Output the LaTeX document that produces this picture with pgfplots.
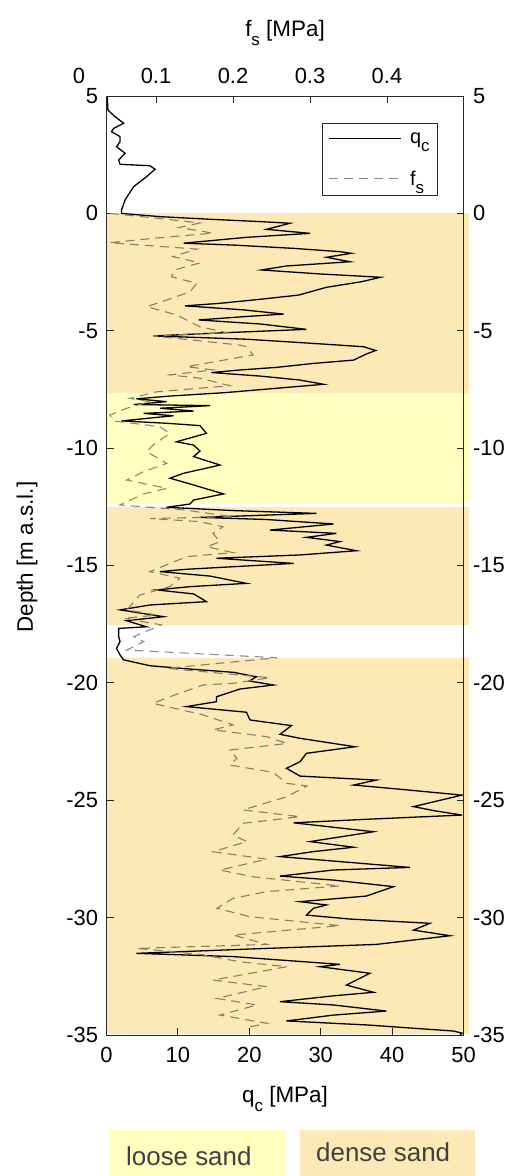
\documentclass[border=0pt]{standalone}
\usepackage{fontspec}
\setmainfont{Liberation Sans}
\usepackage{pgfplots}
\pgfplotsset{compat=1.18}
\usepackage{pgfplotstable}

\definecolor{densesand}{RGB}{252,233,181}
\definecolor{loosesand}{RGB}{255,255,192}
\definecolor{fsgray}{RGB}{140,140,140}
\definecolor{labelgray}{RGB}{64,64,64}
\definecolor{axisgray}{RGB}{40,40,40}

\newcommand\tickfont{\fontsize{22}{26}\selectfont}
\newcommand\labfont{\fontsize{22.5}{27}\selectfont}
\newcommand\sub[1]{\raisebox{-0.42em}{\fontsize{17}{17}\selectfont #1}}

% cone resistance q_c [MPa] against depth [m a.s.l.]
\pgfplotstableread{
qc z
0.1 5.00
0.2 4.40
1.2 4.12
2.4 3.84
1.0 3.62
0.7 3.48
1.9 3.27
1.9 3.05
1.4 2.84
2.6 2.56
1.7 2.27
1.9 2.09
6.1 2.03
6.8 1.88
5.6 1.56
3.8 1.14
2.6 0.57
2.1 0.14
2.1 0.00
7.5 -0.14
14.5 -0.25
21.5 -0.35
25.7 -0.42
22.4 -0.68
28.5 -0.85
19.6 -1.02
10.8 -1.27
17.8 -1.35
26.2 -1.49
32.7 -1.63
34.3 -1.70
30.8 -1.87
34.1 -2.06
25.2 -2.24
21.7 -2.41
29.9 -2.58
38.4 -2.72
35.7 -2.91
30.8 -3.15
26.9 -3.48
21.5 -3.66
15.9 -3.83
11.0 -3.94
19.2 -4.11
24.8 -4.29
19.2 -4.40
12.9 -4.54
21.5 -4.71
28.0 -4.94
16.8 -5.08
6.6 -5.22
19.6 -5.36
28.5 -5.53
36.0 -5.68
37.7 -5.84
36.4 -5.99
34.6 -6.25
29.0 -6.39
23.8 -6.56
18.7 -6.67
14.7 -6.78
21.5 -6.93
27.1 -7.10
30.4 -7.28
23.8 -7.45
16.4 -7.64
8.9 -7.78
4.2 -7.90
8.4 -8.02
3.8 -8.14
14.5 -8.19
7.5 -8.30
12.2 -8.42
5.2 -8.52
9.4 -8.62
2.1 -8.84
8.4 -8.94
13.1 -9.04
14.0 -9.37
9.8 -9.73
12.2 -9.87
13.1 -10.12
12.2 -10.36
15.9 -10.72
10.8 -11.07
8.9 -11.28
12.2 -11.57
15.4 -11.86
16.4 -11.95
12.2 -12.21
11.7 -12.38
8.4 -12.52
17.8 -12.66
29.4 -12.78
13.1 -12.95
22.4 -13.04
31.8 -13.23
22.9 -13.49
32.2 -13.63
28.0 -13.80
32.7 -13.98
30.8 -14.13
35.0 -14.37
27.1 -14.55
15.4 -14.69
26.2 -14.91
11.2 -15.16
7.5 -15.26
14.5 -15.45
19.6 -15.76
11.7 -15.90
7.0 -16.04
12.2 -16.21
14.0 -16.54
6.1 -16.68
1.9 -16.89
8.0 -17.18
2.8 -17.35
5.6 -17.61
1.7 -17.68
1.7 -18.03
1.9 -18.24
1.4 -18.53
1.9 -18.81
2.4 -19.02
6.1 -19.27
11.7 -19.41
17.8 -19.55
21.0 -19.74
20.0 -19.92
23.4 -20.09
18.7 -20.26
15.4 -20.59
15.4 -20.80
11.2 -21.01
19.6 -21.25
20.1 -21.58
25.9 -21.82
24.3 -22.19
27.1 -22.36
34.8 -22.72
28.0 -23.00
27.1 -23.36
25.2 -23.64
27.1 -23.97
37.8 -24.14
34.6 -24.35
41.1 -24.53
49.8 -24.78
43.0 -25.27
45.8 -25.44
49.8 -25.63
36.4 -25.81
26.2 -25.96
37.4 -26.34
28.5 -26.76
34.6 -27.00
28.9 -27.19
24.3 -27.40
42.5 -27.86
31.8 -27.97
24.3 -28.23
31.8 -28.40
40.2 -28.68
36.4 -29.08
27.1 -29.32
30.8 -29.46
29.0 -29.60
28.0 -29.89
34.1 -30.06
45.3 -30.24
43.0 -30.53
48.1 -30.77
37.8 -31.14
22.4 -31.31
4.2 -31.52
17.8 -31.66
32.7 -31.99
29.9 -32.09
36.9 -32.37
33.6 -32.87
37.4 -33.18
31.8 -33.33
24.3 -33.58
31.8 -33.72
39.2 -33.98
31.8 -34.15
25.2 -34.40
36.4 -34.57
48.6 -34.83
49.8 -34.92
49.5 -35.00
}\qcdata

% sleeve friction f_s [MPa] against depth [m a.s.l.]
\pgfplotstableread{
fs z
0.040 0.00
0.100 -0.20
0.157 -0.41
0.130 -0.60
0.174 -0.84
0.100 -1.05
0.040 -1.25
0.153 -1.52
0.122 -1.84
0.157 -2.11
0.125 -2.40
0.120 -2.70
0.153 -2.98
0.144 -3.34
0.114 -3.69
0.088 -3.97
0.127 -4.33
0.157 -4.83
0.192 -5.08
0.096 -5.22
0.209 -5.61
0.218 -5.68
0.226 -6.03
0.140 -6.53
0.174 -6.67
0.118 -6.88
0.157 -7.02
0.196 -7.34
0.101 -7.60
0.066 -7.88
0.092 -8.02
0.062 -8.30
0.040 -8.59
0.045 -8.84
0.105 -9.09
0.118 -9.37
0.096 -9.87
0.088 -10.15
0.114 -10.65
0.084 -11.00
0.062 -11.36
0.114 -11.71
0.084 -11.95
0.053 -12.42
0.135 -12.63
0.200 -12.92
0.092 -13.00
0.157 -13.13
0.187 -13.35
0.174 -13.63
0.183 -13.99
0.166 -14.20
0.200 -14.45
0.140 -14.62
0.092 -15.26
0.131 -15.54
0.118 -15.90
0.079 -16.26
0.062 -16.89
0.101 -17.11
0.058 -17.25
0.107 -17.53
0.071 -18.03
0.084 -18.24
0.062 -18.60
0.257 -18.93
0.114 -19.38
0.248 -19.78
0.200 -20.02
0.161 -20.09
0.118 -20.59
0.096 -20.87
0.161 -21.36
0.200 -21.79
0.174 -22.00
0.244 -22.29
0.270 -22.58
0.196 -22.86
0.205 -23.21
0.196 -23.50
0.252 -23.81
0.270 -24.28
0.296 -24.39
0.270 -24.85
0.213 -25.41
0.287 -25.70
0.213 -25.98
0.200 -26.48
0.218 -26.76
0.174 -27.19
0.244 -27.51
0.183 -27.97
0.226 -28.26
0.339 -28.65
0.244 -28.89
0.200 -29.18
0.179 -29.60
0.222 -29.96
0.339 -30.34
0.200 -30.74
0.244 -31.14
0.075 -31.31
0.157 -31.56
0.209 -31.88
0.270 -32.09
0.174 -32.66
0.244 -32.94
0.179 -33.44
0.231 -33.72
0.183 -34.15
0.244 -34.50
0.222 -34.65
}\fsdata

\begin{document}
\begin{tikzpicture}[x=1bp,y=1bp]
\useasboundingbox (0,0) rectangle (521,-1176);
\pgfplotsset{
  cpt/.style={
    at={(106.5bp,-1035bp)}, anchor=south west,
    width=357bp, height=939bp, scale only axis,
    ymin=-35, ymax=5, ytick={-35,-30,...,5},
    tick align=inside, major tick length=7bp,
    axis line style={line width=0.9bp, axisgray},
    every tick/.style={line width=0.9bp, axisgray},
    tick label style={font=\tickfont},
    /pgf/number format/assume math mode=true,
  },
}

% q_c axis: bottom scale, left depth labels
\begin{axis}[cpt,
  xmin=0, xmax=50, xtick={0,10,...,50},
  xtick pos=lower, xticklabel pos=lower,
  ytick pos=left, yticklabel pos=left,
  xticklabel style={yshift=-9bp},
  yticklabel style={xshift=-5bp},
  xlabel={q\sub{c} [MPa]},
  xlabel style={at={(axis description cs:0.5,-0.0714)}, anchor=base, font=\labfont},
  ylabel={Depth [m a.s.l.]},
  ylabel style={at={(axis description cs:-0.206,0.509)}, anchor=base, rotate=0, font=\labfont},
]
\addplot[black, line width=1.3bp] table[x=qc, y=z] {\qcdata};
\end{axis}

% f_s axis: top scale, right depth labels, legend
\begin{axis}[cpt,
  xmin=0.0357, xmax=0.4994, xtick={0.1,0.2,0.3,0.4},
  xtick pos=upper, xticklabel pos=upper,
  ytick pos=right, yticklabel pos=right,
  xticklabel style={yshift=9bp, /pgf/number format/fixed},
  yticklabel style={xshift=6bp},
  xlabel={f\sub{s} [MPa]},
  xlabel style={at={(axis description cs:0.5,1.0639)}, anchor=base, font=\labfont},
  clip=false,
  legend style={at={(axis description cs:0.9286,0.9712)}, anchor=north east,
    draw=axisgray, line width=0.9bp, fill=white,
    font=\fontsize{20}{22}\selectfont, inner xsep=6bp, inner ysep=7bp,
    row sep=22bp, column sep=6bp},
  legend cell align=left,
  legend image code/.code={\draw[#1] (0bp,0bp) -- (72bp,0bp);},
]
\addlegendimage{black, line width=1.3bp}
\addlegendentry{q\sub{c}}
\addplot[fsgray, line width=1.1bp, dash pattern=on 9bp off 6bp] table[x=fs, y=z] {\fsdata};
\addlegendentry{f\sub{s}}
\node[anchor=south, font=\tickfont, inner sep=0.3333em, yshift=9bp] at (axis cs:0,5) {0};
\end{axis}

% soil layers, laid over the profiles
\begin{axis}[at={(106.5bp,-1035bp)}, anchor=south west,
  width=357bp, height=939bp, scale only axis,
  xmin=0, xmax=50, ymin=-35, ymax=5, hide axis, clip=false]
\addplot[draw=none, fill=densesand, blend mode=multiply] coordinates {(0,0) (50.8,0) (50.8,-7.65) (0,-7.65)} -- cycle;
\addplot[draw=none, fill=loosesand, blend mode=multiply] coordinates {(0,-7.65) (50.8,-7.65) (50.8,-12.40) (0,-12.40)} -- cycle;
\addplot[draw=none, fill=densesand, blend mode=multiply] coordinates {(0,-12.49) (50.8,-12.49) (50.8,-17.52) (0,-17.52)} -- cycle;
\addplot[draw=none, fill=densesand, blend mode=multiply] coordinates {(0,-18.95) (50.8,-18.95) (50.8,-34.96) (0,-34.96)} -- cycle;
\end{axis}

% layer key
\fill[loosesand] (110,-1130) rectangle (286,-1176);
\fill[densesand] (300,-1130) rectangle (475,-1176);
\node[anchor=base west, inner sep=0, font=\fontsize{26}{30}\selectfont, text=labelgray] at (126,-1165.7) {loose sand};
\node[anchor=base west, inner sep=0, font=\fontsize{26}{30}\selectfont, text=labelgray] at (316,-1161.7) {dense sand};
\end{tikzpicture}
\end{document}
